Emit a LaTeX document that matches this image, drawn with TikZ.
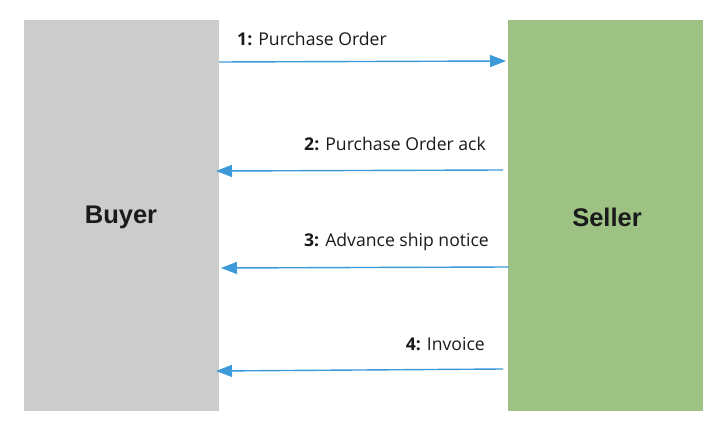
\documentclass[tikz,border=0pt]{standalone}
\usepackage{fontspec}
\setmainfont{Open Sans}
\newfontfamily\boxfont{Liberation Sans}
\usetikzlibrary{arrows.meta}
\definecolor{boxgray}{HTML}{CCCCCC}
\definecolor{boxgreen}{HTML}{9DC284}
\definecolor{arrowblue}{HTML}{3D9AD9}
\definecolor{txt}{HTML}{1A1A1A}
\tikzset{
  party/.style={minimum width=195pt, minimum height=391pt, inner sep=0pt, font=\boxfont\bfseries\fontsize{25.5}{30}\selectfont, text=txt},
  msg/.style={draw=arrowblue, line width=1.4pt, -{Triangle[length=16pt,width=12pt]}},
  lbl/.style={font=\fontsize{17.6}{21}\selectfont, text=txt, inner sep=0pt}
}
\begin{document}
\begin{tikzpicture}[x=1pt,y=-1pt]
\useasboundingbox (0,0) rectangle (720,427);
\fill[white] (0,0) rectangle (720,427);
\node[party, fill=boxgray] (buyer) at (121.5,215.5) {};
\node[party, fill=boxgreen] (seller) at (605.5,215.5) {};
\node[party, anchor=center] (buyertxt) at (121,217) {Buyer};
\node[party, anchor=center] (sellertxt) at (607,217) {Seller};
\coordinate (a1s) at (219,62);
\coordinate (a1e) at (506,61);
\coordinate (a2s) at (503,170);
\coordinate (a2e) at (216,171);
\coordinate (a3s) at (509,267);
\coordinate (a3e) at (221,268);
\coordinate (a4s) at (503,369);
\coordinate (a4e) at (216,371);
\draw[msg] (a1s) -- (a1e);
\draw[msg] (a2s) -- (a2e);
\draw[msg] (a3s) -- (a3e);
\draw[msg] (a4s) -- (a4e);
\node[lbl, anchor=west] (l1) at (237,39) {\textbf{1:} Purchase Order};
\node[lbl, anchor=east] (l2) at (486,144) {\textbf{2:} Purchase Order ack};
\node[lbl, anchor=east] (l3) at (489,242) {\textbf{3:} Advance ship notice};
\node[lbl, anchor=east] (l4) at (485,344) {\textbf{4:} Invoice};
\end{tikzpicture}
\end{document}
